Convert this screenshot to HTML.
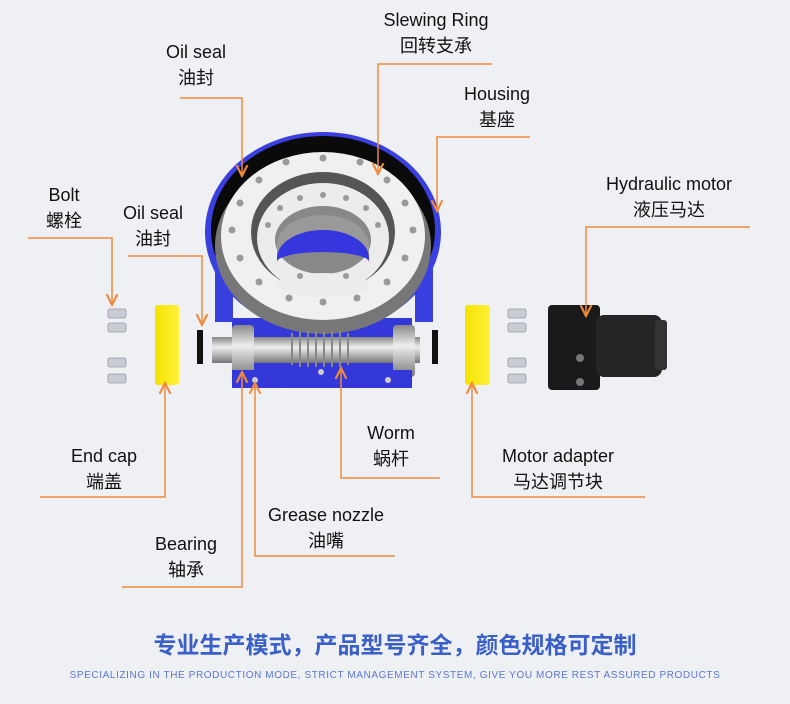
<!DOCTYPE html>
<html><head><meta charset="utf-8"><style>
html,body{margin:0;padding:0;background:#eef0f4;}
svg{display:block}
text{font-family:"Liberation Sans","Noto Sans CJK SC",sans-serif;fill:#111;font-size:18px;text-anchor:middle}
</style></head><body>
<svg width="790" height="704" viewBox="0 0 790 704">
<defs>
<marker id="a" viewBox="0 0 10 10" refX="9" refY="5" markerWidth="9" markerHeight="9" orient="auto"><path d="M1,1 L9,5 L1,9" fill="none" stroke="#f08a3c" stroke-width="1.6"/></marker>
<linearGradient id="sh" x1="0" y1="0" x2="0" y2="1"><stop offset="0" stop-color="#888"/><stop offset=".4" stop-color="#eee"/><stop offset="1" stop-color="#777"/></linearGradient>
<linearGradient id="yl" x1="0" y1="0" x2="1" y2="0"><stop offset="0" stop-color="#f5e200"/><stop offset="1" stop-color="#fff23a"/></linearGradient>
</defs>
<rect width="790" height="704" fill="#eef0f4"/>
<!-- housing -->
<ellipse cx="323" cy="232" rx="118" ry="100" fill="#3a3fe0"/>
<rect x="232" y="318" width="180" height="70" fill="#3538d8"/>
<ellipse cx="323" cy="230" rx="112" ry="94" fill="#0a0a0a"/>
<rect x="215" y="262" width="18" height="60" fill="#3a3fe0"/>
<rect x="415" y="262" width="18" height="60" fill="#3a3fe0"/>
<!-- gear teeth -->
<ellipse cx="323" cy="246" rx="108" ry="88" fill="#777"/>
<ellipse cx="323" cy="236" rx="102" ry="84" fill="#f0f0f0"/>
<ellipse cx="323" cy="232" rx="72" ry="60" fill="#555"/>
<ellipse cx="323" cy="238" rx="66" ry="55" fill="#ececec"/>
<ellipse cx="323" cy="240" rx="48" ry="34" fill="#888"/>
<path d="M277,245 A46,30 0 0 1 369,245 L369,258 A46,28 0 0 0 277,258Z" fill="#999"/>
<path d="M277,258 A46,28 0 0 1 369,258 L369,262 A46,10 0 0 0 277,262Z" fill="#3536dd"/>
<ellipse cx="323" cy="285" rx="46" ry="12" fill="#ececec"/>
<g fill="#9a9a9a">
<circle cx="286" cy="162" r="3.5"/><circle cx="323" cy="158" r="3.5"/><circle cx="360" cy="162" r="3.5"/><circle cx="259" cy="180" r="3.5"/><circle cx="387" cy="180" r="3.5"/><circle cx="240" cy="203" r="3.5"/><circle cx="405" cy="203" r="3.5"/><circle cx="232" cy="230" r="3.5"/><circle cx="413" cy="230" r="3.5"/><circle cx="240" cy="258" r="3.5"/><circle cx="405" cy="258" r="3.5"/><circle cx="259" cy="282" r="3.5"/><circle cx="387" cy="282" r="3.5"/><circle cx="289" cy="298" r="3.5"/><circle cx="357" cy="298" r="3.5"/><circle cx="323" cy="302" r="3.5"/>
<circle cx="300" cy="198" r="3"/><circle cx="323" cy="195" r="3"/><circle cx="346" cy="198" r="3"/><circle cx="280" cy="208" r="3"/><circle cx="366" cy="208" r="3"/><circle cx="268" cy="225" r="3"/><circle cx="378" cy="225" r="3"/><circle cx="300" cy="276" r="3"/><circle cx="346" cy="276" r="3"/>
</g>
<!-- worm shaft -->
<rect x="212" y="337" width="208" height="26" fill="url(#sh)"/>
<rect x="232" y="325" width="22" height="52" rx="4" fill="url(#sh)"/>
<rect x="393" y="325" width="22" height="52" rx="4" fill="url(#sh)"/>
<g stroke="#888" stroke-width="2">
<path d="M292,333 v32 M300,331 v36 M308,331 v36 M316,331 v36 M324,331 v36 M332,331 v36 M340,331 v36 M348,333 v32"/>
</g>
<rect x="232" y="370" width="180" height="18" fill="#3538d8"/>
<circle cx="255" cy="380" r="3" fill="#ccc"/><circle cx="321" cy="372" r="3" fill="#ccc"/><circle cx="388" cy="380" r="3" fill="#ccc"/>
<!-- seals -->
<rect x="197" y="330" width="6" height="34" fill="#111"/>
<rect x="432" y="330" width="6" height="34" fill="#111"/>
<!-- end caps -->
<rect x="155" y="305" width="24" height="80" rx="3" fill="url(#yl)"/>
<rect x="465" y="305" width="25" height="80" rx="3" fill="url(#yl)"/>
<!-- bolts -->
<g fill="#c8ccd4" stroke="#999" stroke-width=".8">
<rect x="108" y="309" width="18" height="9" rx="2"/><rect x="108" y="323" width="18" height="9" rx="2"/><rect x="108" y="358" width="18" height="9" rx="2"/><rect x="108" y="374" width="18" height="9" rx="2"/>
<rect x="508" y="309" width="18" height="9" rx="2"/><rect x="508" y="323" width="18" height="9" rx="2"/><rect x="508" y="358" width="18" height="9" rx="2"/><rect x="508" y="374" width="18" height="9" rx="2"/>
</g>
<!-- motor -->
<rect x="548" y="305" width="52" height="85" rx="4" fill="#1a1a1a"/>
<rect x="596" y="315" width="66" height="62" rx="8" fill="#252525"/>
<rect x="655" y="320" width="12" height="50" rx="3" fill="#333"/>
<circle cx="580" cy="358" r="4" fill="#777"/><circle cx="580" cy="382" r="4" fill="#777"/>
<!-- leader lines -->
<g fill="none" stroke="#f08a3c" stroke-width="1.5">
<path d="M180,98 H242 V176" marker-end="url(#a)"/>
<path d="M492,64 H378 V174" marker-end="url(#a)"/>
<path d="M530,137 H437 V211" marker-end="url(#a)"/>
<path d="M750,227 H586 V316" marker-end="url(#a)"/>
<path d="M28,238 H112 V305" marker-end="url(#a)"/>
<path d="M128,256 H202 V325" marker-end="url(#a)"/>
<path d="M40,497 H165 V383" marker-end="url(#a)"/>
<path d="M440,478 H341 V368" marker-end="url(#a)"/>
<path d="M645,497 H472 V383" marker-end="url(#a)"/>
<path d="M395,556 H255 V383" marker-end="url(#a)"/>
<path d="M122,587 H242 V372" marker-end="url(#a)"/>
</g>
<!-- labels -->
<text x="196" y="58">Oil seal</text><text x="196" y="84">油封</text>
<text x="436" y="26">Slewing Ring</text><text x="436" y="52">回转支承</text>
<text x="497" y="100">Housing</text><text x="497" y="126">基座</text>
<text x="669" y="190">Hydraulic motor</text><text x="669" y="216">液压马达</text>
<text x="64" y="201">Bolt</text><text x="64" y="227">螺栓</text>
<text x="153" y="219">Oil seal</text><text x="153" y="245">油封</text>
<text x="104" y="462">End cap</text><text x="104" y="488">端盖</text>
<text x="391" y="439">Worm</text><text x="391" y="465">蜗杆</text>
<text x="558" y="462">Motor adapter</text><text x="558" y="488">马达调节块</text>
<text x="326" y="521">Grease  nozzle</text><text x="326" y="547">油嘴</text>
<text x="186" y="550">Bearing</text><text x="186" y="576">轴承</text>
<text x="395" y="653" style="font-size:23px;fill:#3a5fc8;font-weight:bold">专业生产模式，产品型号齐全，颜色规格可定制</text>
<text x="395" y="678" style="font-size:10px;fill:#5a78d0;letter-spacing:0.6px">SPECIALIZING IN THE PRODUCTION MODE, STRICT MANAGEMENT SYSTEM, GIVE YOU MORE REST ASSURED PRODUCTS</text>
</svg>
</body></html>
